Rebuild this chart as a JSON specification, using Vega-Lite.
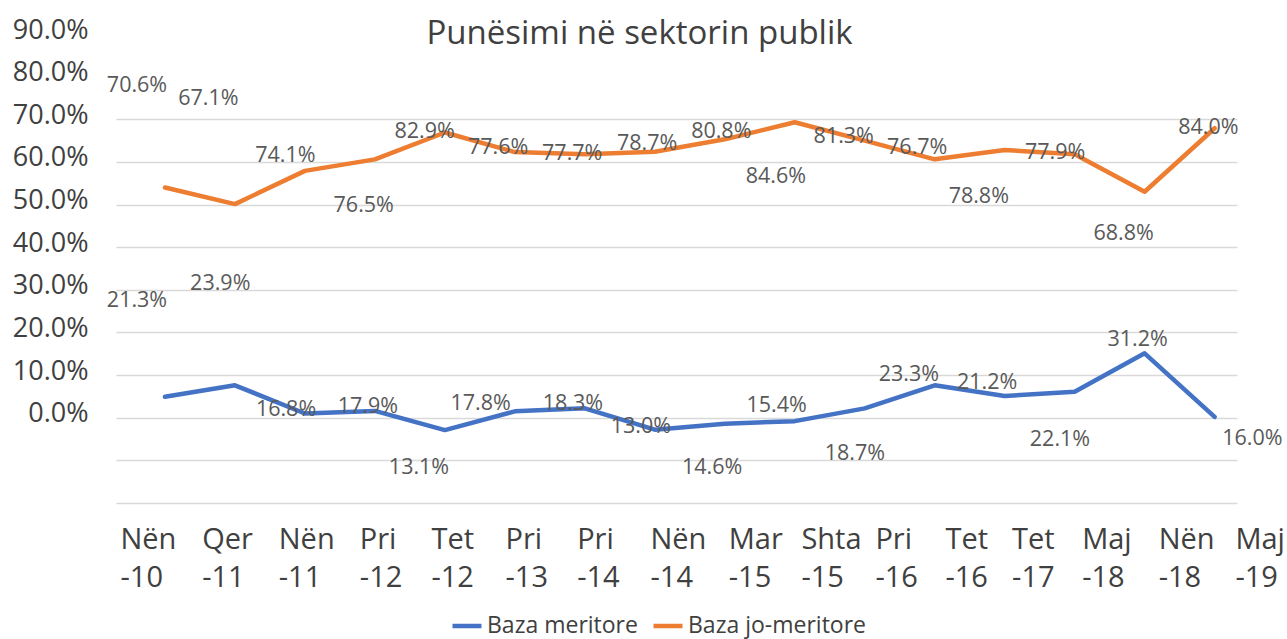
{
  "$schema": "https://vega.github.io/schema/vega-lite/v6.json",
  "width": 1121,
  "height": 469,
  "autosize": {"type": "none"},
  "padding": {"left": 116, "top": 34, "right": 50, "bottom": 136},
  "background": "white",
  "config": {"view": {"stroke": null}, "font": "Open Sans"},
  "title": {
    "text": "Punësimi në sektorin publik",
    "fontSize": 33,
    "font": "Open Sans",
    "fontWeight": "normal",
    "color": "#404040",
    "anchor": "middle",
    "baseline": "alphabetic",
    "offset": -13,
    "dx": -37,
    "dy": 48
  },
  "data": {
    "values": [
      {"series": "Baza meritore", "i": 0, "period": "Nën -10", "value": 4.9, "label": 0.213, "label_x": -0.40, "label_y": 27.3},
      {"series": "Baza meritore", "i": 1, "period": "Qer -11", "value": 7.6, "label": 0.239, "label_x": 0.79, "label_y": 31.3},
      {"series": "Baza meritore", "i": 2, "period": "Nën -11", "value": 1.0, "label": 0.168, "label_x": 1.73, "label_y": 1.8},
      {"series": "Baza meritore", "i": 3, "period": "Pri -12", "value": 1.6, "label": 0.179, "label_x": 2.90, "label_y": 2.5},
      {"series": "Baza meritore", "i": 4, "period": "Tet -12", "value": -2.9, "label": 0.131, "label_x": 3.63, "label_y": -11.9},
      {"series": "Baza meritore", "i": 5, "period": "Pri -13", "value": 1.5, "label": 0.178, "label_x": 4.51, "label_y": 3.3},
      {"series": "Baza meritore", "i": 6, "period": "Pri -14", "value": 2.2, "label": 0.183, "label_x": 5.83, "label_y": 3.3},
      {"series": "Baza meritore", "i": 7, "period": "Nën -14", "value": -2.8, "label": 0.130, "label_x": 6.80, "label_y": -2.2},
      {"series": "Baza meritore", "i": 8, "period": "Mar -15", "value": -1.4, "label": 0.146, "label_x": 7.82, "label_y": -11.7},
      {"series": "Baza meritore", "i": 9, "period": "Shta -15", "value": -0.8, "label": 0.154, "label_x": 8.74, "label_y": 2.7},
      {"series": "Baza meritore", "i": 10, "period": "Pri -16", "value": 2.2, "label": 0.187, "label_x": 9.86, "label_y": -8.4},
      {"series": "Baza meritore", "i": 11, "period": "Tet -16", "value": 7.6, "label": 0.233, "label_x": 10.63, "label_y": 10.0},
      {"series": "Baza meritore", "i": 12, "period": "Tet -17", "value": 5.1, "label": 0.212, "label_x": 11.75, "label_y": 8.2},
      {"series": "Baza meritore", "i": 13, "period": "Maj -18", "value": 6.1, "label": 0.221, "label_x": 12.79, "label_y": -5.3},
      {"series": "Baza meritore", "i": 14, "period": "Nën -18", "value": 15.1, "label": 0.312, "label_x": 13.90, "label_y": 18.2},
      {"series": "Baza meritore", "i": 15, "period": "Maj -19", "value": 0.2, "label": 0.160, "label_x": 15.54, "label_y": -4.9},
      {"series": "Baza jo-meritore", "i": 0, "period": "Nën -10", "value": 54.0, "label": 0.706, "label_x": -0.40, "label_y": 77.7},
      {"series": "Baza jo-meritore", "i": 1, "period": "Qer -11", "value": 50.1, "label": 0.671, "label_x": 0.62, "label_y": 74.8},
      {"series": "Baza jo-meritore", "i": 2, "period": "Nën -11", "value": 57.9, "label": 0.741, "label_x": 1.72, "label_y": 61.4},
      {"series": "Baza jo-meritore", "i": 3, "period": "Pri -12", "value": 60.6, "label": 0.765, "label_x": 2.84, "label_y": 49.6},
      {"series": "Baza jo-meritore", "i": 4, "period": "Tet -12", "value": 66.9, "label": 0.829, "label_x": 3.71, "label_y": 67.1},
      {"series": "Baza jo-meritore", "i": 5, "period": "Pri -13", "value": 62.3, "label": 0.776, "label_x": 4.76, "label_y": 63.2},
      {"series": "Baza jo-meritore", "i": 6, "period": "Pri -14", "value": 61.8, "label": 0.777, "label_x": 5.82, "label_y": 61.9},
      {"series": "Baza jo-meritore", "i": 7, "period": "Nën -14", "value": 62.4, "label": 0.787, "label_x": 6.89, "label_y": 64.2},
      {"series": "Baza jo-meritore", "i": 8, "period": "Mar -15", "value": 65.3, "label": 0.808, "label_x": 7.95, "label_y": 67.1},
      {"series": "Baza jo-meritore", "i": 9, "period": "Shta -15", "value": 69.3, "label": 0.846, "label_x": 8.73, "label_y": 56.5},
      {"series": "Baza jo-meritore", "i": 10, "period": "Pri -16", "value": 65.0, "label": 0.813, "label_x": 9.70, "label_y": 65.9},
      {"series": "Baza jo-meritore", "i": 11, "period": "Tet -16", "value": 60.6, "label": 0.767, "label_x": 10.75, "label_y": 63.3},
      {"series": "Baza jo-meritore", "i": 12, "period": "Tet -17", "value": 62.8, "label": 0.788, "label_x": 11.63, "label_y": 51.7},
      {"series": "Baza jo-meritore", "i": 13, "period": "Maj -18", "value": 61.8, "label": 0.779, "label_x": 12.72, "label_y": 62.2},
      {"series": "Baza jo-meritore", "i": 14, "period": "Nën -18", "value": 53.0, "label": 0.688, "label_x": 13.70, "label_y": 43.2},
      {"series": "Baza jo-meritore", "i": 15, "period": "Maj -19", "value": 67.9, "label": 0.840, "label_x": 14.91, "label_y": 67.9}
    ]
  },
  "layer": [
    {
      "mark": {"type": "line", "strokeWidth": 4.5, "strokeJoin": "round", "strokeCap": "round"},
      "encoding": {
        "x": {
          "field": "i",
          "type": "quantitative",
          "scale": {"domain": [-0.7, 15.32], "nice": false, "zero": false},
          "axis": {
            "values": [-0.643, 0.524, 1.619, 2.777, 3.801, 4.859, 5.883, 6.931, 8.05, 9.088, 10.145, 11.146, 12.099, 13.1, 14.194, 15.29],
            "labelExpr": "split(['Nën -10','Qer -11','Nën -11','Pri -12','Tet -12','Pri -13','Pri -14','Nën -14','Mar -15','Shta -15','Pri -16','Tet -16','Tet -17','Maj -18','Nën -18','Maj -19'][indexof([-0.643, 0.524, 1.619, 2.777, 3.801, 4.859, 5.883, 6.931, 8.05, 9.088, 10.145, 11.146, 12.099, 13.1, 14.194, 15.29], datum.value)], ' ')",
            "grid": false,
            "domain": false,
            "ticks": false,
            "tickSize": 0,
            "labelAlign": "left",
            "labelBaseline": "top",
            "labelPadding": 22,
            "labelFontSize": 29,
            "labelLineHeight": 38,
            "labelColor": "#404040",
            "labelFont": "Open Sans",
            "labelOverlap": false,
            "labelFlush": false,
            "labelBound": false,
            "title": null
          }
        },
        "y": {
          "field": "value",
          "type": "quantitative",
          "scale": {"domain": [-20, 90], "nice": false, "zero": false},
          "axis": {
            "values": [-20, -10, 0, 10, 20, 30, 40, 50, 60, 70, 80, 90],
            "labelExpr": "datum.value < 0 ? '' : format(datum.value, '.1f') + '%'",
            "grid": true,
            "gridColor": "#D9D9D9",
            "gridWidth": 1.5,
            "gridOpacity": {"condition": {"test": "datum.value > 70", "value": 0}, "value": 1},
            "domain": false,
            "ticks": false,
            "tickSize": 0,
            "labelPadding": 28,
            "labelFontSize": 27,
            "labelFont": "Open Sans",
            "labelColor": "#404040",
            "labelOffset": -4,
            "labelOverlap": false,
            "labelBound": false,
            "labelFlush": false,
            "title": null
          }
        },
        "color": {
          "field": "series",
          "type": "nominal",
          "scale": {"domain": ["Baza meritore", "Baza jo-meritore"], "range": ["#4472C4", "#ED7D31"]},
          "legend": {
            "orient": "none",
            "legendX": 334,
            "legendY": 575,
            "direction": "horizontal",
            "title": null,
            "symbolType": "stroke",
            "symbolStrokeWidth": 4.5,
            "symbolSize": 841,
            "labelFontSize": 23,
            "labelFont": "Open Sans",
            "labelColor": "#404040",
            "labelOffset": 3,
            "labelLimit": 400,
            "columnPadding": 6,
            "padding": 0
          }
        }
      }
    },
    {
      "mark": {"type": "text", "fontSize": 21.5, "color": "#595959", "font": "Open Sans", "align": "center", "baseline": "middle"},
      "encoding": {
        "x": {
          "field": "label_x",
          "type": "quantitative",
          "axis": {
            "values": [-0.643, 0.524, 1.619, 2.777, 3.801, 4.859, 5.883, 6.931, 8.05, 9.088, 10.145, 11.146, 12.099, 13.1, 14.194, 15.29],
            "labelExpr": "split(['Nën -10','Qer -11','Nën -11','Pri -12','Tet -12','Pri -13','Pri -14','Nën -14','Mar -15','Shta -15','Pri -16','Tet -16','Tet -17','Maj -18','Nën -18','Maj -19'][indexof([-0.643, 0.524, 1.619, 2.777, 3.801, 4.859, 5.883, 6.931, 8.05, 9.088, 10.145, 11.146, 12.099, 13.1, 14.194, 15.29], datum.value)], ' ')",
            "grid": false,
            "domain": false,
            "ticks": false,
            "tickSize": 0,
            "labelAlign": "left",
            "labelBaseline": "top",
            "labelPadding": 22,
            "labelFontSize": 29,
            "labelLineHeight": 38,
            "labelColor": "#404040",
            "labelFont": "Open Sans",
            "labelOverlap": false,
            "labelFlush": false,
            "labelBound": false,
            "title": null
          }
        },
        "y": {
          "field": "label_y",
          "type": "quantitative",
          "axis": {
            "values": [-20, -10, 0, 10, 20, 30, 40, 50, 60, 70, 80, 90],
            "labelExpr": "datum.value < 0 ? '' : format(datum.value, '.1f') + '%'",
            "grid": true,
            "gridColor": "#D9D9D9",
            "gridWidth": 1.5,
            "gridOpacity": {"condition": {"test": "datum.value > 70", "value": 0}, "value": 1},
            "domain": false,
            "ticks": false,
            "tickSize": 0,
            "labelPadding": 28,
            "labelFontSize": 27,
            "labelFont": "Open Sans",
            "labelColor": "#404040",
            "labelOffset": -4,
            "labelOverlap": false,
            "labelBound": false,
            "labelFlush": false,
            "title": null
          }
        },
        "text": {"field": "label", "type": "quantitative", "format": ".1%"}
      }
    }
  ]
}
